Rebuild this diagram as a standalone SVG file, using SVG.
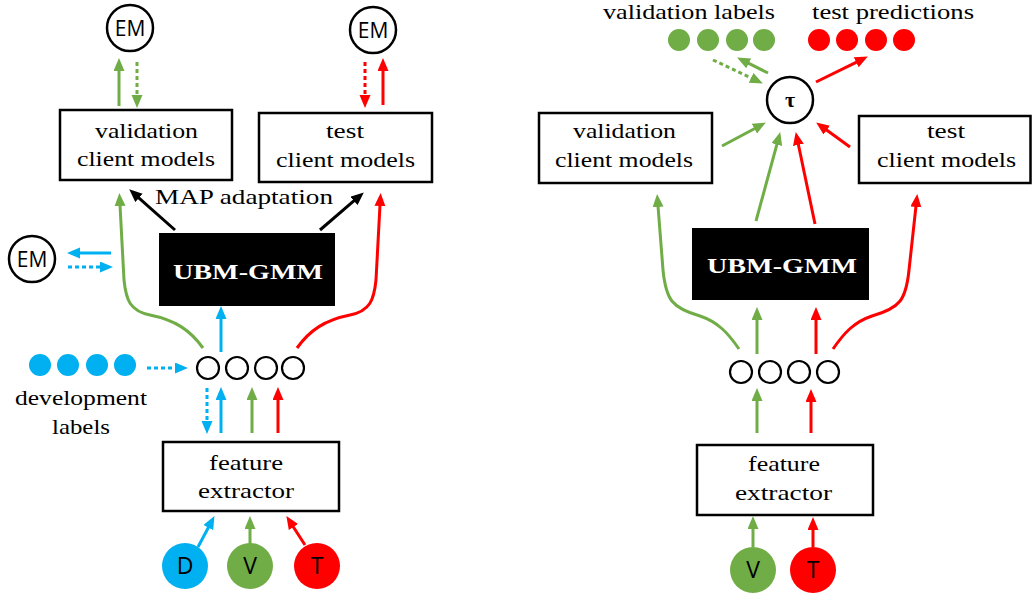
<svg xmlns="http://www.w3.org/2000/svg" width="1032" height="596" viewBox="0 0 1032 596">
<style>
.box{fill:#fff;stroke:#000;stroke-width:2.5}
.ubm{fill:#000}
.t{font-family:"Liberation Serif",serif;font-size:22px;fill:#000;text-anchor:middle}
.tw{font-family:"Liberation Serif",serif;font-size:22px;font-weight:bold;fill:#fff;text-anchor:middle}
.s{font-family:"Open Sans","Liberation Sans",sans-serif;font-size:21px;fill:#000;text-anchor:middle}
.s2{font-family:"Open Sans","Liberation Sans",sans-serif;font-size:23px;fill:#000;text-anchor:middle}
.em{fill:#fff;stroke:#000;stroke-width:2.5}
.ring{fill:#fff;stroke:#000;stroke-width:2.2}
.g{stroke:#70AD47;stroke-width:3;fill:none;marker-end:url(#ag)}
.r{stroke:#FF0000;stroke-width:3;fill:none;marker-end:url(#ar)}
.c{stroke:#00B0F0;stroke-width:3;fill:none;marker-end:url(#ac)}
.k{stroke:#000;stroke-width:3;fill:none;marker-end:url(#ak)}
.d{stroke-dasharray:4 3}
</style>
<defs>
<marker id="ag" markerUnits="userSpaceOnUse" markerWidth="14" markerHeight="12" refX="1" refY="5.5" orient="auto"><path d="M0,0 L13,5.5 L0,11 z" fill="#70AD47"/></marker>
<marker id="ar" markerUnits="userSpaceOnUse" markerWidth="14" markerHeight="12" refX="1" refY="5.5" orient="auto"><path d="M0,0 L13,5.5 L0,11 z" fill="#FF0000"/></marker>
<marker id="ac" markerUnits="userSpaceOnUse" markerWidth="14" markerHeight="12" refX="1" refY="5.5" orient="auto"><path d="M0,0 L13,5.5 L0,11 z" fill="#00B0F0"/></marker>
<marker id="ak" markerUnits="userSpaceOnUse" markerWidth="14" markerHeight="12" refX="1" refY="5.5" orient="auto"><path d="M0,0 L13,5.5 L0,11 z" fill="#000"/></marker>
</defs>
<rect width="1032" height="596" fill="#fff"/>

<!-- LEFT -->
<g id="em-val-left"><circle class="em" cx="130" cy="28" r="23"/><text class="s" x="130" y="35.5">EM</text></g>
<g id="em-test-left"><circle class="em" cx="373" cy="30" r="23"/><text class="s" x="373" y="37.5">EM</text></g>
<g id="em-ubm-left"><circle class="em" cx="32" cy="259" r="23"/><text class="s" x="32" y="266.5">EM</text></g>
<g id="val-models-left"><rect class="box" x="60" y="110" width="172" height="70"/>
<text class="t" x="146.5" y="138" textLength="103" lengthAdjust="spacingAndGlyphs">validation</text>
<text class="t" x="146" y="166" textLength="138" lengthAdjust="spacingAndGlyphs">client models</text></g>
<g id="test-models-left"><rect class="box" x="259" y="113" width="173" height="69"/>
<text class="t" x="345" y="138" textLength="38" lengthAdjust="spacingAndGlyphs">test</text>
<text class="t" x="345.5" y="167" textLength="139" lengthAdjust="spacingAndGlyphs">client models</text></g>
<g id="map-label"><text class="t" x="244" y="204" textLength="178" lengthAdjust="spacingAndGlyphs">MAP adaptation</text></g>
<g id="ubm-left"><rect class="ubm" x="159" y="233" width="176" height="73"/>
<text class="tw" x="248" y="279" textLength="150" lengthAdjust="spacingAndGlyphs">UBM-GMM</text></g>
<g id="dev-labels">
<circle cx="40" cy="365" r="11" fill="#00B0F0"/><circle cx="68" cy="365" r="11" fill="#00B0F0"/><circle cx="97" cy="365" r="11" fill="#00B0F0"/><circle cx="125" cy="365" r="11" fill="#00B0F0"/>
<text class="t" x="81" y="405" textLength="132" lengthAdjust="spacingAndGlyphs">development</text>
<text class="t" x="81" y="434" textLength="58" lengthAdjust="spacingAndGlyphs">labels</text></g>
<g id="features-left">
<circle class="ring" cx="208" cy="368" r="11"/><circle class="ring" cx="237" cy="368" r="11"/><circle class="ring" cx="266" cy="368" r="11"/><circle class="ring" cx="293" cy="368" r="11"/></g>
<g id="fe-left"><rect class="box" x="163" y="442" width="176" height="69"/>
<text class="t" x="246" y="470" textLength="74" lengthAdjust="spacingAndGlyphs">feature</text>
<text class="t" x="246" y="498" textLength="96" lengthAdjust="spacingAndGlyphs">extractor</text></g>
<g id="D"><circle cx="185" cy="566" r="23" fill="#00B0F0"/><text class="s2" x="185" y="574">D</text></g>
<g id="V-left"><circle cx="250" cy="566" r="23" fill="#70AD47"/><text class="s2" x="250" y="574">V</text></g>
<g id="T-left"><circle cx="317" cy="566" r="23" fill="#FF0000"/><text class="s2" x="317" y="574">T</text></g>

<!-- RIGHT -->
<g id="val-labels"><text class="t" x="689" y="19" textLength="172" lengthAdjust="spacingAndGlyphs">validation labels</text>
<circle cx="679" cy="40" r="11" fill="#70AD47"/><circle cx="708" cy="40" r="11" fill="#70AD47"/><circle cx="737" cy="40" r="11" fill="#70AD47"/><circle cx="764" cy="40" r="11" fill="#70AD47"/></g>
<g id="test-preds"><text class="t" x="893" y="19" textLength="162" lengthAdjust="spacingAndGlyphs">test predictions</text>
<circle cx="819" cy="40" r="11" fill="#FF0000"/><circle cx="847" cy="40" r="11" fill="#FF0000"/><circle cx="876" cy="40" r="11" fill="#FF0000"/><circle cx="904" cy="40" r="11" fill="#FF0000"/></g>
<g id="tau"><circle class="em" cx="790" cy="100" r="23"/><text x="790" y="107" font-family="Liberation Serif,serif" font-size="22" font-weight="bold" text-anchor="middle">τ</text></g>
<g id="val-models-right"><rect class="box" x="539" y="113" width="173" height="70"/>
<text class="t" x="624.5" y="138" textLength="103" lengthAdjust="spacingAndGlyphs">validation</text>
<text class="t" x="624" y="167" textLength="138" lengthAdjust="spacingAndGlyphs">client models</text></g>
<g id="test-models-right"><rect class="box" x="859" y="116" width="171.5" height="67"/>
<text class="t" x="946" y="138" textLength="38" lengthAdjust="spacingAndGlyphs">test</text>
<text class="t" x="946.5" y="167" textLength="139" lengthAdjust="spacingAndGlyphs">client models</text></g>
<g id="ubm-right"><rect class="ubm" x="692" y="228" width="177" height="72"/>
<text class="tw" x="782" y="273" textLength="150" lengthAdjust="spacingAndGlyphs">UBM-GMM</text></g>
<g id="features-right">
<circle class="ring" cx="741" cy="372" r="11"/><circle class="ring" cx="770" cy="372" r="11"/><circle class="ring" cx="799" cy="372" r="11"/><circle class="ring" cx="828" cy="372" r="11"/></g>
<g id="fe-right"><rect class="box" x="697" y="445" width="176" height="70"/>
<text class="t" x="784" y="471" textLength="72" lengthAdjust="spacingAndGlyphs">feature</text>
<text class="t" x="783.5" y="500" textLength="97" lengthAdjust="spacingAndGlyphs">extractor</text></g>
<g id="V-right"><circle cx="753" cy="570" r="23" fill="#70AD47"/><text class="s2" x="753" y="578">V</text></g>
<g id="T-right"><circle cx="813" cy="570" r="23" fill="#FF0000"/><text class="s2" x="813" y="578">T</text></g>

<g id="connectors">
<path class="g" d="M119,106 L119,70"/>
<path class="g d" d="M137,62 L137,96"/>
<path class="r d" d="M365,62 L365,96"/>
<path class="r" d="M383,105 L383,70"/>
<path class="k" d="M175,230 L138.2,197.3"/>
<path class="k" d="M320,230 L354.7,200.2"/>
<path class="c" d="M111,253 L79,253"/>
<path class="c d" d="M68,267 L101,267"/>
<path class="g" d="M203,348 C190,330 175,320 150,315 C130,311 126,300 124,280 L120,205"/>
<path class="r" d="M297,348 C310,330 325,320 350,315 C370,311 374,300 376,280 L380,205"/>
<path class="c" d="M221,352 L221,318"/>
<path class="c d" d="M147,368 L176,368"/>
<path class="c d" d="M207,388 L207,422"/>
<path class="c" d="M221,433 L221,399"/>
<path class="g" d="M252,433 L252,399"/>
<path class="r" d="M278,433 L278,399"/>
<path class="c" d="M198,547 L208.8,526.7"/>
<path class="g" d="M250,545 L250,528"/>
<path class="r" d="M305,545 L292.9,526.2"/>

<path class="g d" d="M713,60 L752,78.3"/>
<path class="g" d="M768,73 L747.8,62.9"/>
<path class="r" d="M816,82 L857.1,61.8"/>
<path class="g" d="M722,146 L755.3,128.2"/>
<path class="r" d="M850,147 L825.9,129.5"/>
<path class="g" d="M756,221 L777.1,143.6"/>
<path class="r" d="M815,224 L798.2,143.8"/>
<path class="g" d="M739,349 C728,333 718,322 700,316 C672,308 666,300 663,270 L658,206"/>
<path class="r" d="M833,349 C844,333 854,322 872,316 C900,308 906,300 909,270 L916,206"/>
<path class="g" d="M757,354 L757,319"/>
<path class="r" d="M816,354 L816,319"/>
<path class="g" d="M757,433 L757,400"/>
<path class="r" d="M811,433 L811,401"/>
<path class="g" d="M753,547 L753,528"/>
<path class="r" d="M813,547 L813,529"/>
</g>
</svg>
